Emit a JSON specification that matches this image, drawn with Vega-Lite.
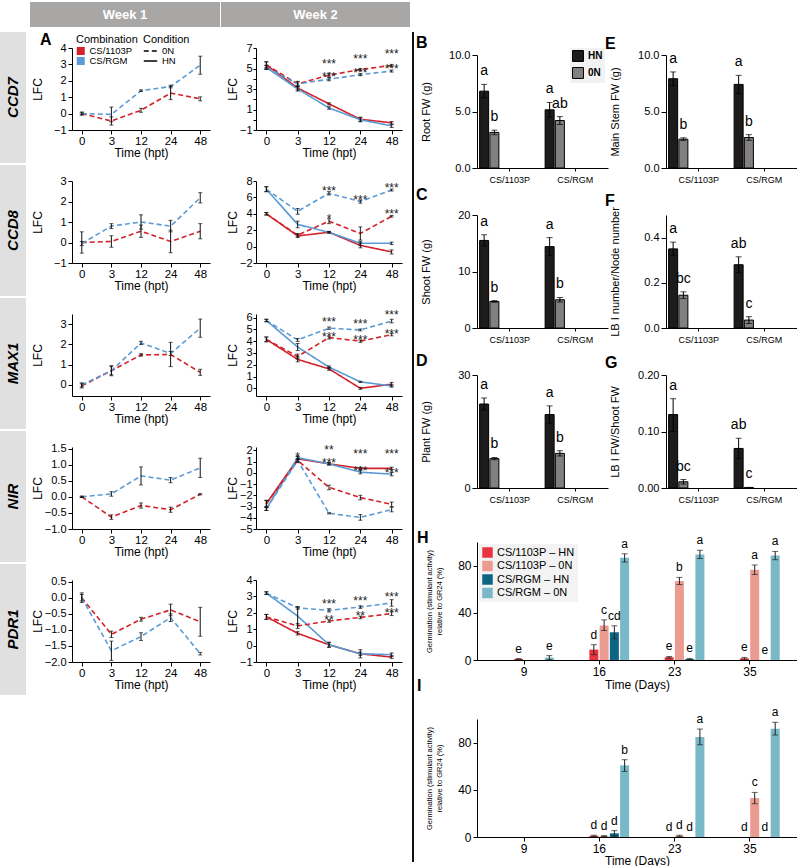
{
"$schema":"https://vega.github.io/schema/vega-lite/v6.json",
"padding":{"left":0,"top":2,"right":0,"bottom":0},
"background":"white",
"config":{"font":"Liberation Sans","view":{"stroke":null},"axis":{"grid":false,"domainColor":"#000","tickColor":"#000","labelColor":"#000","titleColor":"#000","titleFontWeight":"normal"},"axisX":{"titleFontWeight":"normal"},"axisY":{"titleFontWeight":"normal"},"legend":{"labelColor":"#000","titleColor":"#000"}},
"datasets":{
"lfc":[
{"g":"CCD7","w":1,"c":"CS/1103P","n":"0N","t":0,"m":0,"e":0.05},
{"g":"CCD7","w":1,"c":"CS/1103P","n":"0N","t":3,"m":-0.45,"e":0.25},
{"g":"CCD7","w":1,"c":"CS/1103P","n":"0N","t":12,"m":0.2,"e":0.12},
{"g":"CCD7","w":1,"c":"CS/1103P","n":"0N","t":24,"m":1.25,"e":0.4},
{"g":"CCD7","w":1,"c":"CS/1103P","n":"0N","t":48,"m":0.9,"e":0.12},
{"g":"CCD7","w":1,"c":"CS/RGM","n":"0N","t":0,"m":0,"e":0.1},
{"g":"CCD7","w":1,"c":"CS/RGM","n":"0N","t":3,"m":-0.05,"e":0.45},
{"g":"CCD7","w":1,"c":"CS/RGM","n":"0N","t":12,"m":1.4,"e":0.05},
{"g":"CCD7","w":1,"c":"CS/RGM","n":"0N","t":24,"m":1.65,"e":0.08},
{"g":"CCD7","w":1,"c":"CS/RGM","n":"0N","t":48,"m":2.95,"e":0.55},
{"g":"CCD7","w":2,"c":"CS/1103P","n":"HN","t":0,"m":5.35,"e":0.3},
{"g":"CCD7","w":2,"c":"CS/1103P","n":"HN","t":3,"m":3.1,"e":0.2},
{"g":"CCD7","w":2,"c":"CS/1103P","n":"HN","t":12,"m":1.55,"e":0.1},
{"g":"CCD7","w":2,"c":"CS/1103P","n":"HN","t":24,"m":0.05,"e":0.2},
{"g":"CCD7","w":2,"c":"CS/1103P","n":"HN","t":48,"m":-0.3,"e":0.12},
{"g":"CCD7","w":2,"c":"CS/RGM","n":"HN","t":0,"m":5.1,"e":0.2},
{"g":"CCD7","w":2,"c":"CS/RGM","n":"HN","t":3,"m":3.0,"e":0.2},
{"g":"CCD7","w":2,"c":"CS/RGM","n":"HN","t":12,"m":1.15,"e":0.12},
{"g":"CCD7","w":2,"c":"CS/RGM","n":"HN","t":24,"m":0,"e":0.2},
{"g":"CCD7","w":2,"c":"CS/RGM","n":"HN","t":48,"m":-0.6,"e":0.15},
{"g":"CCD7","w":2,"c":"CS/1103P","n":"0N","t":0,"m":5.35,"e":0.3},
{"g":"CCD7","w":2,"c":"CS/1103P","n":"0N","t":3,"m":3.5,"e":0.25},
{"g":"CCD7","w":2,"c":"CS/1103P","n":"0N","t":12,"m":4.35,"e":0.2,"s":"***"},
{"g":"CCD7","w":2,"c":"CS/1103P","n":"0N","t":24,"m":4.9,"e":0.1,"s":"***"},
{"g":"CCD7","w":2,"c":"CS/1103P","n":"0N","t":48,"m":5.3,"e":0.1,"s":"***"},
{"g":"CCD7","w":2,"c":"CS/RGM","n":"0N","t":0,"m":5.1,"e":0.2},
{"g":"CCD7","w":2,"c":"CS/RGM","n":"0N","t":3,"m":3.5,"e":0.2},
{"g":"CCD7","w":2,"c":"CS/RGM","n":"0N","t":12,"m":3.95,"e":0.15,"s":"***"},
{"g":"CCD7","w":2,"c":"CS/RGM","n":"0N","t":24,"m":4.4,"e":0.1,"s":"***"},
{"g":"CCD7","w":2,"c":"CS/RGM","n":"0N","t":48,"m":4.75,"e":0.1,"s":"***"},
{"g":"CCD8","w":1,"c":"CS/1103P","n":"0N","t":0,"m":0,"e":0.52},
{"g":"CCD8","w":1,"c":"CS/1103P","n":"0N","t":3,"m":0.05,"e":0.28},
{"g":"CCD8","w":1,"c":"CS/1103P","n":"0N","t":12,"m":0.55,"e":0.3},
{"g":"CCD8","w":1,"c":"CS/1103P","n":"0N","t":24,"m":0.05,"e":0.55},
{"g":"CCD8","w":1,"c":"CS/1103P","n":"0N","t":48,"m":0.55,"e":0.37},
{"g":"CCD8","w":1,"c":"CS/RGM","n":"0N","t":0,"m":-0.05,"e":0.1},
{"g":"CCD8","w":1,"c":"CS/RGM","n":"0N","t":3,"m":0.8,"e":0.12},
{"g":"CCD8","w":1,"c":"CS/RGM","n":"0N","t":12,"m":1.0,"e":0.35},
{"g":"CCD8","w":1,"c":"CS/RGM","n":"0N","t":24,"m":0.8,"e":0.28},
{"g":"CCD8","w":1,"c":"CS/RGM","n":"0N","t":48,"m":2.18,"e":0.25},
{"g":"CCD8","w":2,"c":"CS/1103P","n":"HN","t":0,"m":4.0,"e":0.15},
{"g":"CCD8","w":2,"c":"CS/1103P","n":"HN","t":3,"m":1.3,"e":0.2},
{"g":"CCD8","w":2,"c":"CS/1103P","n":"HN","t":12,"m":1.75,"e":0.1},
{"g":"CCD8","w":2,"c":"CS/1103P","n":"HN","t":24,"m":0.15,"e":0.3},
{"g":"CCD8","w":2,"c":"CS/1103P","n":"HN","t":48,"m":-0.65,"e":0.25},
{"g":"CCD8","w":2,"c":"CS/RGM","n":"HN","t":0,"m":7.0,"e":0.3},
{"g":"CCD8","w":2,"c":"CS/RGM","n":"HN","t":3,"m":2.7,"e":0.4},
{"g":"CCD8","w":2,"c":"CS/RGM","n":"HN","t":12,"m":1.75,"e":0.1},
{"g":"CCD8","w":2,"c":"CS/RGM","n":"HN","t":24,"m":0.4,"e":0.25},
{"g":"CCD8","w":2,"c":"CS/RGM","n":"HN","t":48,"m":0.4,"e":0.15},
{"g":"CCD8","w":2,"c":"CS/1103P","n":"0N","t":0,"m":4.0,"e":0.15},
{"g":"CCD8","w":2,"c":"CS/1103P","n":"0N","t":3,"m":1.4,"e":0.2},
{"g":"CCD8","w":2,"c":"CS/1103P","n":"0N","t":12,"m":3.1,"e":0.3,"s":"*"},
{"g":"CCD8","w":2,"c":"CS/1103P","n":"0N","t":24,"m":1.6,"e":0.8},
{"g":"CCD8","w":2,"c":"CS/1103P","n":"0N","t":48,"m":3.7,"e":0.1,"s":"***"},
{"g":"CCD8","w":2,"c":"CS/RGM","n":"0N","t":0,"m":7.0,"e":0.3},
{"g":"CCD8","w":2,"c":"CS/RGM","n":"0N","t":3,"m":4.3,"e":0.35},
{"g":"CCD8","w":2,"c":"CS/RGM","n":"0N","t":12,"m":6.5,"e":0.2,"s":"***"},
{"g":"CCD8","w":2,"c":"CS/RGM","n":"0N","t":24,"m":5.5,"e":0.2,"s":"***"},
{"g":"CCD8","w":2,"c":"CS/RGM","n":"0N","t":48,"m":6.9,"e":0.12,"s":"***"},
{"g":"MAX1","w":1,"c":"CS/1103P","n":"0N","t":0,"m":-0.05,"e":0.1},
{"g":"MAX1","w":1,"c":"CS/1103P","n":"0N","t":3,"m":0.7,"e":0.25},
{"g":"MAX1","w":1,"c":"CS/1103P","n":"0N","t":12,"m":1.48,"e":0.06},
{"g":"MAX1","w":1,"c":"CS/1103P","n":"0N","t":24,"m":1.5,"e":0.6},
{"g":"MAX1","w":1,"c":"CS/1103P","n":"0N","t":48,"m":0.62,"e":0.15},
{"g":"MAX1","w":1,"c":"CS/RGM","n":"0N","t":0,"m":0,"e":0.1},
{"g":"MAX1","w":1,"c":"CS/RGM","n":"0N","t":3,"m":0.7,"e":0.2},
{"g":"MAX1","w":1,"c":"CS/RGM","n":"0N","t":12,"m":2.07,"e":0.08},
{"g":"MAX1","w":1,"c":"CS/RGM","n":"0N","t":24,"m":1.55,"e":0.1},
{"g":"MAX1","w":1,"c":"CS/RGM","n":"0N","t":48,"m":2.8,"e":0.45},
{"g":"MAX1","w":2,"c":"CS/1103P","n":"HN","t":0,"m":4.15,"e":0.2},
{"g":"MAX1","w":2,"c":"CS/1103P","n":"HN","t":3,"m":2.45,"e":0.2},
{"g":"MAX1","w":2,"c":"CS/1103P","n":"HN","t":12,"m":1.65,"e":0.12},
{"g":"MAX1","w":2,"c":"CS/1103P","n":"HN","t":24,"m":0,"e":0.08},
{"g":"MAX1","w":2,"c":"CS/1103P","n":"HN","t":48,"m":0.35,"e":0.15},
{"g":"MAX1","w":2,"c":"CS/RGM","n":"HN","t":0,"m":5.75,"e":0.1},
{"g":"MAX1","w":2,"c":"CS/RGM","n":"HN","t":3,"m":3.5,"e":0.3},
{"g":"MAX1","w":2,"c":"CS/RGM","n":"HN","t":12,"m":1.8,"e":0.1},
{"g":"MAX1","w":2,"c":"CS/RGM","n":"HN","t":24,"m":0.55,"e":0.05},
{"g":"MAX1","w":2,"c":"CS/RGM","n":"HN","t":48,"m":0.2,"e":0.1},
{"g":"MAX1","w":2,"c":"CS/1103P","n":"0N","t":0,"m":4.15,"e":0.2},
{"g":"MAX1","w":2,"c":"CS/1103P","n":"0N","t":3,"m":2.7,"e":0.2},
{"g":"MAX1","w":2,"c":"CS/1103P","n":"0N","t":12,"m":4.3,"e":0.12,"s":"***"},
{"g":"MAX1","w":2,"c":"CS/1103P","n":"0N","t":24,"m":4.0,"e":0.1,"s":"***"},
{"g":"MAX1","w":2,"c":"CS/1103P","n":"0N","t":48,"m":4.55,"e":0.1,"s":"***"},
{"g":"MAX1","w":2,"c":"CS/RGM","n":"0N","t":0,"m":5.75,"e":0.1},
{"g":"MAX1","w":2,"c":"CS/RGM","n":"0N","t":3,"m":4.1,"e":0.12},
{"g":"MAX1","w":2,"c":"CS/RGM","n":"0N","t":12,"m":5.1,"e":0.1,"s":"***"},
{"g":"MAX1","w":2,"c":"CS/RGM","n":"0N","t":24,"m":4.95,"e":0.08,"s":"***"},
{"g":"MAX1","w":2,"c":"CS/RGM","n":"0N","t":48,"m":5.7,"e":0.15,"s":"***"},
{"g":"NIR","w":1,"c":"CS/1103P","n":"0N","t":0,"m":0,"e":0.02},
{"g":"NIR","w":1,"c":"CS/1103P","n":"0N","t":3,"m":-0.63,"e":0.07},
{"g":"NIR","w":1,"c":"CS/1103P","n":"0N","t":12,"m":-0.27,"e":0.08},
{"g":"NIR","w":1,"c":"CS/1103P","n":"0N","t":24,"m":-0.4,"e":0.08},
{"g":"NIR","w":1,"c":"CS/1103P","n":"0N","t":48,"m":0.08,"e":0.02},
{"g":"NIR","w":1,"c":"CS/RGM","n":"0N","t":0,"m":0,"e":0.02},
{"g":"NIR","w":1,"c":"CS/RGM","n":"0N","t":3,"m":0.09,"e":0.07},
{"g":"NIR","w":1,"c":"CS/RGM","n":"0N","t":12,"m":0.65,"e":0.28},
{"g":"NIR","w":1,"c":"CS/RGM","n":"0N","t":24,"m":0.52,"e":0.08},
{"g":"NIR","w":1,"c":"CS/RGM","n":"0N","t":48,"m":0.9,"e":0.3},
{"g":"NIR","w":2,"c":"CS/1103P","n":"HN","t":0,"m":-2.75,"e":0.3},
{"g":"NIR","w":2,"c":"CS/1103P","n":"HN","t":3,"m":1.25,"e":0.2},
{"g":"NIR","w":2,"c":"CS/1103P","n":"HN","t":12,"m":0.8,"e":0.1,"s":"**"},
{"g":"NIR","w":2,"c":"CS/1103P","n":"HN","t":24,"m":0.4,"e":0.1,"s":"***"},
{"g":"NIR","w":2,"c":"CS/1103P","n":"HN","t":48,"m":0.4,"e":0.1,"s":"***"},
{"g":"NIR","w":2,"c":"CS/RGM","n":"HN","t":0,"m":-3.2,"e":0.15},
{"g":"NIR","w":2,"c":"CS/RGM","n":"HN","t":3,"m":1.35,"e":0.15,"s":"*"},
{"g":"NIR","w":2,"c":"CS/RGM","n":"HN","t":12,"m":0.8,"e":0.1,"s":"***"},
{"g":"NIR","w":2,"c":"CS/RGM","n":"HN","t":24,"m":0.06,"e":0.15,"s":"***"},
{"g":"NIR","w":2,"c":"CS/RGM","n":"HN","t":48,"m":-0.12,"e":0.15,"s":"***"},
{"g":"NIR","w":2,"c":"CS/1103P","n":"0N","t":0,"m":-2.75,"e":0.3},
{"g":"NIR","w":2,"c":"CS/1103P","n":"0N","t":3,"m":1.1,"e":0.15},
{"g":"NIR","w":2,"c":"CS/1103P","n":"0N","t":12,"m":-1.3,"e":0.2},
{"g":"NIR","w":2,"c":"CS/1103P","n":"0N","t":24,"m":-2.2,"e":0.2},
{"g":"NIR","w":2,"c":"CS/1103P","n":"0N","t":48,"m":-2.8,"e":0.2},
{"g":"NIR","w":2,"c":"CS/RGM","n":"0N","t":0,"m":-3.2,"e":0.15},
{"g":"NIR","w":2,"c":"CS/RGM","n":"0N","t":3,"m":1.1,"e":0.15},
{"g":"NIR","w":2,"c":"CS/RGM","n":"0N","t":12,"m":-3.6,"e":0.05},
{"g":"NIR","w":2,"c":"CS/RGM","n":"0N","t":24,"m":-3.97,"e":0.25},
{"g":"NIR","w":2,"c":"CS/RGM","n":"0N","t":48,"m":-3.27,"e":0.2},
{"g":"PDR1","w":1,"c":"CS/1103P","n":"0N","t":0,"m":0,"e":0.1},
{"g":"PDR1","w":1,"c":"CS/1103P","n":"0N","t":3,"m":-1.14,"e":0.1},
{"g":"PDR1","w":1,"c":"CS/1103P","n":"0N","t":12,"m":-0.67,"e":0.06},
{"g":"PDR1","w":1,"c":"CS/1103P","n":"0N","t":24,"m":-0.38,"e":0.18},
{"g":"PDR1","w":1,"c":"CS/1103P","n":"0N","t":48,"m":-0.75,"e":0.45},
{"g":"PDR1","w":1,"c":"CS/RGM","n":"0N","t":0,"m":0,"e":0.15},
{"g":"PDR1","w":1,"c":"CS/RGM","n":"0N","t":3,"m":-1.65,"e":0.3},
{"g":"PDR1","w":1,"c":"CS/RGM","n":"0N","t":12,"m":-1.21,"e":0.12},
{"g":"PDR1","w":1,"c":"CS/RGM","n":"0N","t":24,"m":-0.62,"e":0.12},
{"g":"PDR1","w":1,"c":"CS/RGM","n":"0N","t":48,"m":-1.74,"e":0.04},
{"g":"PDR1","w":2,"c":"CS/1103P","n":"HN","t":0,"m":1.75,"e":0.15},
{"g":"PDR1","w":2,"c":"CS/1103P","n":"HN","t":3,"m":0.75,"e":0.1},
{"g":"PDR1","w":2,"c":"CS/1103P","n":"HN","t":12,"m":0.05,"e":0.15},
{"g":"PDR1","w":2,"c":"CS/1103P","n":"HN","t":24,"m":-0.5,"e":0.1},
{"g":"PDR1","w":2,"c":"CS/1103P","n":"HN","t":48,"m":-0.7,"e":0.08},
{"g":"PDR1","w":2,"c":"CS/RGM","n":"HN","t":0,"m":3.2,"e":0.08},
{"g":"PDR1","w":2,"c":"CS/RGM","n":"HN","t":3,"m":1.8,"e":0.55},
{"g":"PDR1","w":2,"c":"CS/RGM","n":"HN","t":12,"m":0.05,"e":0.15},
{"g":"PDR1","w":2,"c":"CS/RGM","n":"HN","t":24,"m":-0.5,"e":0.25},
{"g":"PDR1","w":2,"c":"CS/RGM","n":"HN","t":48,"m":-0.55,"e":0.1},
{"g":"PDR1","w":2,"c":"CS/1103P","n":"0N","t":0,"m":1.75,"e":0.15},
{"g":"PDR1","w":2,"c":"CS/1103P","n":"0N","t":3,"m":1.2,"e":0.15},
{"g":"PDR1","w":2,"c":"CS/1103P","n":"0N","t":12,"m":1.5,"e":0.08,"s":"**"},
{"g":"PDR1","w":2,"c":"CS/1103P","n":"0N","t":24,"m":1.72,"e":0.08,"s":"**"},
{"g":"PDR1","w":2,"c":"CS/1103P","n":"0N","t":48,"m":1.95,"e":0.12,"s":"***"},
{"g":"PDR1","w":2,"c":"CS/RGM","n":"0N","t":0,"m":3.2,"e":0.08},
{"g":"PDR1","w":2,"c":"CS/RGM","n":"0N","t":3,"m":2.3,"e":0.08},
{"g":"PDR1","w":2,"c":"CS/RGM","n":"0N","t":12,"m":2.15,"e":0.1,"s":"***"},
{"g":"PDR1","w":2,"c":"CS/RGM","n":"0N","t":24,"m":2.35,"e":0.08,"s":"***"},
{"g":"PDR1","w":2,"c":"CS/RGM","n":"0N","t":48,"m":2.6,"e":0.2,"s":"***"}
],
"bio":[
{"p":"B","c":"CS/1103P","n":"HN","m":6.8,"lo":6.2,"hi":7.4,"l":"a"},
{"p":"B","c":"CS/1103P","n":"0N","m":3.15,"lo":2.95,"hi":3.35,"l":"b"},
{"p":"B","c":"CS/RGM","n":"HN","m":5.15,"lo":4.5,"hi":5.8,"l":"a"},
{"p":"B","c":"CS/RGM","n":"0N","m":4.2,"lo":3.85,"hi":4.55,"l":"ab"},
{"p":"E","c":"CS/1103P","n":"HN","m":7.9,"lo":7.3,"hi":8.5,"l":"a"},
{"p":"E","c":"CS/1103P","n":"0N","m":2.55,"lo":2.43,"hi":2.67,"l":"b"},
{"p":"E","c":"CS/RGM","n":"HN","m":7.4,"lo":6.6,"hi":8.2,"l":"a"},
{"p":"E","c":"CS/RGM","n":"0N","m":2.7,"lo":2.45,"hi":2.95,"l":"b"},
{"p":"C","c":"CS/1103P","n":"HN","m":15.5,"lo":14.5,"hi":16.5,"l":"a"},
{"p":"C","c":"CS/1103P","n":"0N","m":4.7,"lo":4.55,"hi":4.85,"l":"b"},
{"p":"C","c":"CS/RGM","n":"HN","m":14.4,"lo":12.8,"hi":16.0,"l":"a"},
{"p":"C","c":"CS/RGM","n":"0N","m":5.0,"lo":4.6,"hi":5.4,"l":"b"},
{"p":"F","c":"CS/1103P","n":"HN","m":0.35,"lo":0.32,"hi":0.38,"l":"a"},
{"p":"F","c":"CS/1103P","n":"0N","m":0.145,"lo":0.13,"hi":0.16,"l":"bc"},
{"p":"F","c":"CS/RGM","n":"HN","m":0.28,"lo":0.245,"hi":0.315,"l":"ab"},
{"p":"F","c":"CS/RGM","n":"0N","m":0.035,"lo":0.02,"hi":0.05,"l":"c"},
{"p":"D","c":"CS/1103P","n":"HN","m":22.3,"lo":20.7,"hi":23.9,"l":"a"},
{"p":"D","c":"CS/1103P","n":"0N","m":7.8,"lo":7.5,"hi":8.1,"l":"b"},
{"p":"D","c":"CS/RGM","n":"HN","m":19.5,"lo":17.2,"hi":21.8,"l":"a"},
{"p":"D","c":"CS/RGM","n":"0N","m":9.2,"lo":8.5,"hi":9.9,"l":"b"},
{"p":"G","c":"CS/1103P","n":"HN","m":0.13,"lo":0.1,"hi":0.158,"l":"a"},
{"p":"G","c":"CS/1103P","n":"0N","m":0.011,"lo":0.007,"hi":0.015,"l":"bc"},
{"p":"G","c":"CS/RGM","n":"HN","m":0.07,"lo":0.052,"hi":0.088,"l":"ab"},
{"p":"G","c":"CS/RGM","n":"0N","m":0.001,"lo":0.001,"hi":0.001,"l":"c"}
],
"germ":[
{"p":"H","d":9,"s":"CS/1103P – HN","m":0.8,"lo":0.4,"hi":1.2,"l":"e"},
{"p":"H","d":9,"s":"CS/RGM – 0N","m":2,"lo":0.3,"hi":3.7,"l":"e"},
{"p":"H","d":16,"s":"CS/1103P – HN","m":8.8,"lo":4.5,"hi":13,"l":"d"},
{"p":"H","d":16,"s":"CS/1103P – 0N","m":29.2,"lo":25,"hi":34,"l":"c"},
{"p":"H","d":16,"s":"CS/RGM – HN","m":23.5,"lo":18,"hi":29,"l":"cd"},
{"p":"H","d":16,"s":"CS/RGM – 0N","m":86.7,"lo":83,"hi":90,"l":"a"},
{"p":"H","d":23,"s":"CS/1103P – HN","m":2.3,"lo":1.6,"hi":3,"l":"e"},
{"p":"H","d":23,"s":"CS/1103P – 0N","m":66.9,"lo":64,"hi":70,"l":"b"},
{"p":"H","d":23,"s":"CS/RGM – HN","m":0.8,"lo":0.3,"hi":1.3,"l":"e"},
{"p":"H","d":23,"s":"CS/RGM – 0N","m":89.5,"lo":86,"hi":93,"l":"a"},
{"p":"H","d":35,"s":"CS/1103P – HN","m":1.4,"lo":0.6,"hi":2.2,"l":"e"},
{"p":"H","d":35,"s":"CS/1103P – 0N","m":76.5,"lo":72.5,"hi":80.5,"l":"a"},
{"p":"H","d":35,"s":"CS/RGM – HN","m":0,"lo":0,"hi":0,"l":"e"},
{"p":"H","d":35,"s":"CS/RGM – 0N","m":88.5,"lo":85,"hi":92,"l":"a"},
{"p":"I","d":16,"s":"CS/1103P – HN","m":1,"lo":0.5,"hi":1.5,"l":"d"},
{"p":"I","d":16,"s":"CS/1103P – 0N","m":0.8,"lo":0.4,"hi":1.2,"l":"d"},
{"p":"I","d":16,"s":"CS/RGM – HN","m":3.1,"lo":0.8,"hi":5.4,"l":"d"},
{"p":"I","d":16,"s":"CS/RGM – 0N","m":60.7,"lo":55.6,"hi":65.5,"l":"b"},
{"p":"I","d":23,"s":"CS/1103P – HN","m":0,"lo":0,"hi":0,"l":"d"},
{"p":"I","d":23,"s":"CS/1103P – 0N","m":1,"lo":0.5,"hi":1.5,"l":"d"},
{"p":"I","d":23,"s":"CS/RGM – HN","m":0,"lo":0,"hi":0,"l":"d"},
{"p":"I","d":23,"s":"CS/RGM – 0N","m":84.7,"lo":78.2,"hi":91.5,"l":"a"},
{"p":"I","d":35,"s":"CS/1103P – HN","m":0,"lo":0,"hi":0,"l":"d"},
{"p":"I","d":35,"s":"CS/1103P – 0N","m":33,"lo":28.2,"hi":37.8,"l":"c"},
{"p":"I","d":35,"s":"CS/RGM – HN","m":0,"lo":0,"hi":0,"l":"d"},
{"p":"I","d":35,"s":"CS/RGM – 0N","m":91.8,"lo":86.4,"hi":97.2,"l":"a"}
]
},
"resolve":{"scale":{"color":"independent","strokeDash":"independent"},"legend":{"color":"independent","strokeDash":"independent"}},
"spacing":5,
"vconcat":[
{"spacing":1,"hconcat":[
 {"width":29,"height":25,"data":{"values":[{"wk":""}]},"mark":{"type":"text","fontSize":0,"opacity":0},"encoding":{"text":{"field":"wk"}}},
 {"width":190,"height":25,"view":{"fill":"#a9a7a6"},"data":{"values":[{"wk":"Week 1"}]},"mark":{"type":"text","fontSize":13,"fontWeight":"bold","color":"white"},"encoding":{"text":{"field":"wk"}}},
 {"width":189,"height":25,"view":{"fill":"#a9a7a6"},"data":{"values":[{"wk":"Week 2"}]},"mark":{"type":"text","fontSize":13,"fontWeight":"bold","color":"white"},"encoding":{"text":{"field":"wk"}}}
]},
{"resolve":{"scale":{"color":"independent","strokeDash":"independent"},"legend":{"color":"independent","strokeDash":"independent"}},
 "spacing":10,
 "hconcat":[
 {"resolve":{"scale":{"color":"independent","strokeDash":"independent"},"legend":{"color":"independent","strokeDash":"independent"}},
  "columns":3,"bounds":"flush","spacing":{"row":2,"column":46},
  "concat":[
   {"width":26,"height":131,"view":{"fill":"#e1e0e0"},"data":{"values":[{"gene":"CCD7"}]},"mark":{"type":"text","angle":270,"fontSize":15,"fontWeight":"bold","fontStyle":"italic"},"encoding":{"text":{"field":"gene"}}},
   {"width":138,"height":98,
    "title":{"text":"A","anchor":"start","frame":"group","dx":-32,"fontSize":16,"fontWeight":"bold","offset":-16},
    "data":{"name":"lfc"},"transform":[{"filter":"datum.g==='CCD7' && datum.w===1"}],
    "encoding":{"x":{"field":"t","type":"ordinal","scale":{"domain":[0,3,12,24,48],"type":"point","padding":0.33},"axis":{"title":"Time (hpt)","labelAngle":0,"labelFontSize":11.5,"titleFontSize":12,"titleFontWeight":"normal","tickSize":4,"labelPadding":1,"titlePadding":1}},
     "y":{"field":"m","type":"quantitative","scale":{"domain":[-1,4],"range":[98,16],"nice":false,"zero":false},"axis":{"title":"LFC","titleFontSize":12,"labelFontSize":11,"tickSize":4,"labelPadding":2,"minExtent":27,"maxExtent":27,"titlePadding":1,"values":[-1,0,1,2,3,4],"format":"d"}}},
    "layer":[
     {"mark":{"type":"line","strokeWidth":1.6},"encoding":{
       "color":{"field":"c","type":"nominal","scale":{"domain":["CS/1103P","CS/RGM"],"range":["#d2232a","#5b9bd5"]},"legend":{"orient":"none","legendX":3,"legendY":1,"title":"Combination","titleFontSize":11,"titleFontWeight":"normal","titlePadding":1,"labelFontSize":9.5,"symbolType":"square","symbolSize":16,"symbolStrokeWidth":4,"rowPadding":0,"clipHeight":10,"padding":1,"labelOffset":4,"fillColor":"rgba(255,255,255,0.85)"}},
       "strokeDash":{"field":"n","type":"nominal","scale":{"domain":["0N","HN"],"range":[[5,3],[1,0]]},"legend":{"orient":"none","legendX":70,"legendY":1,"title":"Condition","titleFontSize":11,"titleFontWeight":"normal","titlePadding":1,"labelFontSize":9.5,"symbolType":"stroke","symbolStrokeColor":"#000","symbolSize":180,"symbolStrokeWidth":1.5,"rowPadding":0,"clipHeight":10,"padding":1,"fillColor":"rgba(255,255,255,0.85)"}}}},
     {"mark":{"type":"errorbar","ticks":true,"size":4,"thickness":1,"color":"#111"},"encoding":{"yError":{"field":"e"}}}
    ]},
   {"width":146,"height":98,"data":{"name":"lfc"},"transform":[{"filter":"datum.g==='CCD7' && datum.w===2"}],
    "encoding":{"x":{"field":"t","type":"ordinal","scale":{"domain":[0,3,12,24,48],"type":"point","padding":0.33},"axis":{"title":"Time (hpt)","labelAngle":0,"labelFontSize":11.5,"titleFontSize":12,"titleFontWeight":"normal","tickSize":4,"labelPadding":1,"titlePadding":1}},
     "y":{"field":"m","type":"quantitative","scale":{"domain":[-1,7],"range":[98,16],"nice":false,"zero":false},"axis":{"title":"LFC","titleFontSize":12,"labelFontSize":11,"tickSize":3,"labelPadding":1,"minExtent":16,"maxExtent":16,"titlePadding":1,"values":[-1,0,1,2,3,4,5,6,7],"format":"d"}}},
    "layer":[
     {"mark":{"type":"line","strokeWidth":1.6},"encoding":{"color":{"field":"c","type":"nominal","scale":{"domain":["CS/1103P","CS/RGM"],"range":["#d2232a","#5b9bd5"]},"legend":null},"strokeDash":{"field":"n","type":"nominal","scale":{"domain":["0N","HN"],"range":[[5,3],[1,0]]},"legend":null}}},
     {"mark":{"type":"errorbar","ticks":true,"size":4,"thickness":1,"color":"#111"},"encoding":{"yError":{"field":"e"}}},
     {"transform":[{"filter":"datum.s && datum.c==='CS/1103P'"}],"mark":{"type":"text","fontSize":12,"dy":-7,"baseline":"alphabetic","color":"#222"},"encoding":{"text":{"field":"s"}}},
     {"transform":[{"filter":"datum.s && datum.c==='CS/RGM'"}],"mark":{"type":"text","fontSize":12,"dy":2,"baseline":"alphabetic","color":"#222"},"encoding":{"text":{"field":"s"}}}
    ]},
   {"width":26,"height":131,"view":{"fill":"#e1e0e0"},"data":{"values":[{"gene":"CCD8"}]},"mark":{"type":"text","angle":270,"fontSize":15,"fontWeight":"bold","fontStyle":"italic"},"encoding":{"text":{"field":"gene"}}},
   {"width":138,"height":98,"data":{"name":"lfc"},"transform":[{"filter":"datum.g==='CCD8' && datum.w===1"}],
    "encoding":{"x":{"field":"t","type":"ordinal","scale":{"domain":[0,3,12,24,48],"type":"point","padding":0.33},"axis":{"title":"Time (hpt)","labelAngle":0,"labelFontSize":11.5,"titleFontSize":12,"titleFontWeight":"normal","tickSize":4,"labelPadding":1,"titlePadding":1}},
     "y":{"field":"m","type":"quantitative","scale":{"domain":[-1,3],"range":[98,16],"nice":false,"zero":false},"axis":{"title":"LFC","titleFontSize":12,"labelFontSize":11,"tickSize":4,"labelPadding":2,"minExtent":27,"maxExtent":27,"titlePadding":1,"values":[-1,0,1,2,3],"format":"d"}}},
    "layer":[
     {"mark":{"type":"line","strokeWidth":1.6},"encoding":{"color":{"field":"c","type":"nominal","scale":{"domain":["CS/1103P","CS/RGM"],"range":["#d2232a","#5b9bd5"]},"legend":null},"strokeDash":{"field":"n","type":"nominal","scale":{"domain":["0N","HN"],"range":[[5,3],[1,0]]},"legend":null}}},
     {"mark":{"type":"errorbar","ticks":true,"size":4,"thickness":1,"color":"#111"},"encoding":{"yError":{"field":"e"}}}
    ]},
   {"width":146,"height":98,"data":{"name":"lfc"},"transform":[{"filter":"datum.g==='CCD8' && datum.w===2"}],
    "encoding":{"x":{"field":"t","type":"ordinal","scale":{"domain":[0,3,12,24,48],"type":"point","padding":0.33},"axis":{"title":"Time (hpt)","labelAngle":0,"labelFontSize":11.5,"titleFontSize":12,"titleFontWeight":"normal","tickSize":4,"labelPadding":1,"titlePadding":1}},
     "y":{"field":"m","type":"quantitative","scale":{"domain":[-2,8],"range":[98,16],"nice":false,"zero":false},"axis":{"title":"LFC","titleFontSize":12,"labelFontSize":11,"tickSize":3,"labelPadding":1,"minExtent":16,"maxExtent":16,"titlePadding":1,"values":[-2,0,2,4,6,8],"format":"d"}}},
    "layer":[
     {"mark":{"type":"line","strokeWidth":1.6},"encoding":{"color":{"field":"c","type":"nominal","scale":{"domain":["CS/1103P","CS/RGM"],"range":["#d2232a","#5b9bd5"]},"legend":null},"strokeDash":{"field":"n","type":"nominal","scale":{"domain":["0N","HN"],"range":[[5,3],[1,0]]},"legend":null}}},
     {"mark":{"type":"errorbar","ticks":true,"size":4,"thickness":1,"color":"#111"},"encoding":{"yError":{"field":"e"}}},
     {"transform":[{"filter":"datum.s"}],"mark":{"type":"text","fontSize":12,"dy":2,"baseline":"alphabetic","color":"#222"},"encoding":{"text":{"field":"s"}}}
    ]},
   {"width":26,"height":131,"view":{"fill":"#e1e0e0"},"data":{"values":[{"gene":"MAX1"}]},"mark":{"type":"text","angle":270,"fontSize":15,"fontWeight":"bold","fontStyle":"italic"},"encoding":{"text":{"field":"gene"}}},
   {"width":138,"height":98,"data":{"name":"lfc"},"transform":[{"filter":"datum.g==='MAX1' && datum.w===1"}],
    "encoding":{"x":{"field":"t","type":"ordinal","scale":{"domain":[0,3,12,24,48],"type":"point","padding":0.33},"axis":{"title":"Time (hpt)","labelAngle":0,"labelFontSize":11.5,"titleFontSize":12,"titleFontWeight":"normal","tickSize":4,"labelPadding":1,"titlePadding":1}},
     "y":{"field":"m","type":"quantitative","scale":{"domain":[-0.55,3.5],"range":[98,16],"nice":false,"zero":false},"axis":{"title":"LFC","titleFontSize":12,"labelFontSize":11,"tickSize":4,"labelPadding":2,"minExtent":27,"maxExtent":27,"titlePadding":1,"values":[0,1,2,3],"format":"d"}}},
    "layer":[
     {"mark":{"type":"line","strokeWidth":1.6},"encoding":{"color":{"field":"c","type":"nominal","scale":{"domain":["CS/1103P","CS/RGM"],"range":["#d2232a","#5b9bd5"]},"legend":null},"strokeDash":{"field":"n","type":"nominal","scale":{"domain":["0N","HN"],"range":[[5,3],[1,0]]},"legend":null}}},
     {"mark":{"type":"errorbar","ticks":true,"size":4,"thickness":1,"color":"#111"},"encoding":{"yError":{"field":"e"}}}
    ]},
   {"width":146,"height":98,"data":{"name":"lfc"},"transform":[{"filter":"datum.g==='MAX1' && datum.w===2"}],
    "encoding":{"x":{"field":"t","type":"ordinal","scale":{"domain":[0,3,12,24,48],"type":"point","padding":0.33},"axis":{"title":"Time (hpt)","labelAngle":0,"labelFontSize":11.5,"titleFontSize":12,"titleFontWeight":"normal","tickSize":4,"labelPadding":1,"titlePadding":1}},
     "y":{"field":"m","type":"quantitative","scale":{"domain":[-0.65,6.3],"range":[98,16],"nice":false,"zero":false},"axis":{"title":"LFC","titleFontSize":12,"labelFontSize":11,"tickSize":3,"labelPadding":1,"minExtent":16,"maxExtent":16,"titlePadding":1,"values":[0,1,2,3,4,5,6],"format":"d"}}},
    "layer":[
     {"mark":{"type":"line","strokeWidth":1.6},"encoding":{"color":{"field":"c","type":"nominal","scale":{"domain":["CS/1103P","CS/RGM"],"range":["#d2232a","#5b9bd5"]},"legend":null},"strokeDash":{"field":"n","type":"nominal","scale":{"domain":["0N","HN"],"range":[[5,3],[1,0]]},"legend":null}}},
     {"mark":{"type":"errorbar","ticks":true,"size":4,"thickness":1,"color":"#111"},"encoding":{"yError":{"field":"e"}}},
     {"transform":[{"filter":"datum.s && datum.c==='CS/1103P'"}],"mark":{"type":"text","fontSize":12,"dy":3,"baseline":"alphabetic","color":"#222"},"encoding":{"text":{"field":"s"}}},
     {"transform":[{"filter":"datum.s && datum.c==='CS/RGM'"}],"mark":{"type":"text","fontSize":12,"dy":-2,"baseline":"alphabetic","color":"#222"},"encoding":{"text":{"field":"s"}}}
    ]},
   {"width":26,"height":131,"view":{"fill":"#e1e0e0"},"data":{"values":[{"gene":"NIR"}]},"mark":{"type":"text","angle":270,"fontSize":15,"fontWeight":"bold","fontStyle":"italic"},"encoding":{"text":{"field":"gene"}}},
   {"width":138,"height":98,"data":{"name":"lfc"},"transform":[{"filter":"datum.g==='NIR' && datum.w===1"}],
    "encoding":{"x":{"field":"t","type":"ordinal","scale":{"domain":[0,3,12,24,48],"type":"point","padding":0.33},"axis":{"title":"Time (hpt)","labelAngle":0,"labelFontSize":11.5,"titleFontSize":12,"titleFontWeight":"normal","tickSize":4,"labelPadding":1,"titlePadding":1}},
     "y":{"field":"m","type":"quantitative","scale":{"domain":[-1,1.55],"range":[98,16],"nice":false,"zero":false},"axis":{"title":"LFC","titleFontSize":12,"labelFontSize":11,"tickSize":4,"labelPadding":2,"minExtent":27,"maxExtent":27,"titlePadding":1,"values":[-1,-0.5,0,0.5,1,1.5],"format":".1f"}}},
    "layer":[
     {"mark":{"type":"line","strokeWidth":1.6},"encoding":{"color":{"field":"c","type":"nominal","scale":{"domain":["CS/1103P","CS/RGM"],"range":["#d2232a","#5b9bd5"]},"legend":null},"strokeDash":{"field":"n","type":"nominal","scale":{"domain":["0N","HN"],"range":[[5,3],[1,0]]},"legend":null}}},
     {"mark":{"type":"errorbar","ticks":true,"size":4,"thickness":1,"color":"#111"},"encoding":{"yError":{"field":"e"}}}
    ]},
   {"width":146,"height":98,"data":{"name":"lfc"},"transform":[{"filter":"datum.g==='NIR' && datum.w===2"}],
    "encoding":{"x":{"field":"t","type":"ordinal","scale":{"domain":[0,3,12,24,48],"type":"point","padding":0.33},"axis":{"title":"Time (hpt)","labelAngle":0,"labelFontSize":11.5,"titleFontSize":12,"titleFontWeight":"normal","tickSize":4,"labelPadding":1,"titlePadding":1}},
     "y":{"field":"m","type":"quantitative","scale":{"domain":[-5,2.3],"range":[98,16],"nice":false,"zero":false},"axis":{"title":"LFC","titleFontSize":12,"labelFontSize":11,"tickSize":3,"labelPadding":1,"minExtent":16,"maxExtent":16,"titlePadding":1,"values":[-5,-4,-3,-2,-1,0,1,2],"format":"d"}}},
    "layer":[
     {"mark":{"type":"line","strokeWidth":1.6},"encoding":{"color":{"field":"c","type":"nominal","scale":{"domain":["CS/1103P","CS/RGM"],"range":["#d2232a","#5b9bd5"]},"legend":null},"strokeDash":{"field":"n","type":"nominal","scale":{"domain":["0N","HN"],"range":[[5,3],[1,0]]},"legend":null}}},
     {"mark":{"type":"errorbar","ticks":true,"size":4,"thickness":1,"color":"#111"},"encoding":{"yError":{"field":"e"}}},
     {"transform":[{"filter":"datum.s && datum.c==='CS/1103P'"}],"mark":{"type":"text","fontSize":12,"dy":-10,"baseline":"alphabetic","color":"#222"},"encoding":{"text":{"field":"s"}}},
     {"transform":[{"filter":"datum.s && datum.c==='CS/RGM'"}],"mark":{"type":"text","fontSize":12,"dy":3,"baseline":"alphabetic","color":"#222"},"encoding":{"text":{"field":"s"}}}
    ]},
   {"width":26,"height":131,"view":{"fill":"#e1e0e0"},"data":{"values":[{"gene":"PDR1"}]},"mark":{"type":"text","angle":270,"fontSize":15,"fontWeight":"bold","fontStyle":"italic"},"encoding":{"text":{"field":"gene"}}},
   {"width":138,"height":98,"data":{"name":"lfc"},"transform":[{"filter":"datum.g==='PDR1' && datum.w===1"}],
    "encoding":{"x":{"field":"t","type":"ordinal","scale":{"domain":[0,3,12,24,48],"type":"point","padding":0.33},"axis":{"title":"Time (hpt)","labelAngle":0,"labelFontSize":11.5,"titleFontSize":12,"titleFontWeight":"normal","tickSize":4,"labelPadding":1,"titlePadding":1}},
     "y":{"field":"m","type":"quantitative","scale":{"domain":[-2,0.55],"range":[98,16],"nice":false,"zero":false},"axis":{"title":"LFC","titleFontSize":12,"labelFontSize":11,"tickSize":4,"labelPadding":2,"minExtent":27,"maxExtent":27,"titlePadding":1,"values":[-2,-1.5,-1,-0.5,0,0.5],"format":".1f"}}},
    "layer":[
     {"mark":{"type":"line","strokeWidth":1.6},"encoding":{"color":{"field":"c","type":"nominal","scale":{"domain":["CS/1103P","CS/RGM"],"range":["#d2232a","#5b9bd5"]},"legend":null},"strokeDash":{"field":"n","type":"nominal","scale":{"domain":["0N","HN"],"range":[[5,3],[1,0]]},"legend":null}}},
     {"mark":{"type":"errorbar","ticks":true,"size":4,"thickness":1,"color":"#111"},"encoding":{"yError":{"field":"e"}}}
    ]},
   {"width":146,"height":98,"data":{"name":"lfc"},"transform":[{"filter":"datum.g==='PDR1' && datum.w===2"}],
    "encoding":{"x":{"field":"t","type":"ordinal","scale":{"domain":[0,3,12,24,48],"type":"point","padding":0.33},"axis":{"title":"Time (hpt)","labelAngle":0,"labelFontSize":11.5,"titleFontSize":12,"titleFontWeight":"normal","tickSize":4,"labelPadding":1,"titlePadding":1}},
     "y":{"field":"m","type":"quantitative","scale":{"domain":[-1,4],"range":[98,16],"nice":false,"zero":false},"axis":{"title":"LFC","titleFontSize":12,"labelFontSize":11,"tickSize":3,"labelPadding":1,"minExtent":16,"maxExtent":16,"titlePadding":1,"values":[-1,0,1,2,3,4],"format":"d"}}},
    "layer":[
     {"mark":{"type":"line","strokeWidth":1.6},"encoding":{"color":{"field":"c","type":"nominal","scale":{"domain":["CS/1103P","CS/RGM"],"range":["#d2232a","#5b9bd5"]},"legend":null},"strokeDash":{"field":"n","type":"nominal","scale":{"domain":["0N","HN"],"range":[[5,3],[1,0]]},"legend":null}}},
     {"mark":{"type":"errorbar","ticks":true,"size":4,"thickness":1,"color":"#111"},"encoding":{"yError":{"field":"e"}}},
     {"transform":[{"filter":"datum.s && datum.c==='CS/1103P'"}],"mark":{"type":"text","fontSize":12,"dy":3,"baseline":"alphabetic","color":"#222"},"encoding":{"text":{"field":"s"}}},
     {"transform":[{"filter":"datum.s && datum.c==='CS/RGM'"}],"mark":{"type":"text","fontSize":12,"dy":-2,"baseline":"alphabetic","color":"#222"},"encoding":{"text":{"field":"s"}}}
    ]}
  ]},
 {"resolve":{"scale":{"color":"independent","strokeDash":"independent"},"legend":{"color":"independent","strokeDash":"independent"}},
  "spacing":2,
  "hconcat":[
  {"width":2,"height":830,"view":{"fill":"#111"},"data":{"values":[{"v":""}]},"mark":{"type":"text","fontSize":0,"opacity":0},"encoding":{"text":{"field":"v"}}},
  {"resolve":{"scale":{"color":"independent","strokeDash":"independent"},"legend":{"color":"independent","strokeDash":"independent"}},
   "spacing":0,
   "vconcat":[
   {"width":1,"height":3,"data":{"values":[{"v":""}]},"mark":{"type":"text","fontSize":0,"opacity":0},"encoding":{"text":{"field":"v"}}},
   {"resolve":{"scale":{"color":"independent","strokeDash":"independent"},"legend":{"color":"independent","strokeDash":"independent"}},
   "spacing":26,
   "vconcat":[
   {"resolve":{"scale":{"color":"independent","strokeDash":"independent"},"legend":{"color":"independent","strokeDash":"independent"}},
    "columns":2,"bounds":"flush","spacing":{"row":47,"column":58},
    "concat":[
     {"width":131,"height":113,"title":{"text":"B","anchor":"start","frame":"group","dx":-61,"fontSize":16,"fontWeight":"bold","offset":-3},
      "data":{"name":"bio"},"transform":[{"filter":"datum.p==='B'"}],
      "encoding":{"x":{"field":"c","type":"nominal","scale":{"domain":["CS/1103P","CS/RGM"],"paddingInner":0.08,"paddingOuter":0.04},"axis":{"title":null,"labelAngle":0,"labelFontSize":9,"tickSize":3,"labelPadding":4}},"xOffset":{"field":"n","type":"nominal","scale":{"domain":["HN","0N"]}}},
      "layer":[
       {"mark":{"type":"bar","stroke":"#000","strokeWidth":1},"encoding":{"y":{"field":"m","type":"quantitative","scale":{"domain":[0,10],"nice":false},"axis":{"title":"Root FW (g)","titleFontSize":11,"labelFontSize":11,"tickSize":5,"labelPadding":2,"minExtent":38,"maxExtent":38,"titlePadding":8,"values":[0,2.5,5,7.5,10],"format":".1f"}},"color":{"field":"n","type":"nominal","scale":{"domain":["HN","0N"],"range":["#1d1b1b","#828080"]},"legend":{"orient":"none","legendX":93,"legendY":-7,"title":null,"symbolType":"square","symbolSize":120,"symbolStrokeColor":"#000","symbolStrokeWidth":1,"labelFontSize":10,"labelFontWeight":"bold","rowPadding":1,"padding":2,"fillColor":"#f2f2f2"}}}},
       {"transform":[{"filter":"datum.hi > datum.lo"}],"mark":{"type":"rule","color":"#000","strokeWidth":1},"encoding":{"y":{"field":"lo","type":"quantitative"},"y2":{"field":"hi"}}},
       {"transform":[{"filter":"datum.hi > datum.lo"}],"mark":{"type":"tick","color":"#000","size":6,"thickness":1},"encoding":{"y":{"field":"lo","type":"quantitative"}}},
       {"transform":[{"filter":"datum.hi > datum.lo"}],"mark":{"type":"tick","color":"#000","size":6,"thickness":1},"encoding":{"y":{"field":"hi","type":"quantitative"}}},
       {"mark":{"type":"text","fontSize":14,"baseline":"alphabetic","dy":-9},"encoding":{"y":{"field":"hi","type":"quantitative"},"text":{"field":"l"}}}
      ]},
     {"width":131,"height":113,"title":{"text":"E","anchor":"start","frame":"group","dx":-61,"fontSize":16,"fontWeight":"bold","offset":-3},
      "data":{"name":"bio"},"transform":[{"filter":"datum.p==='E'"}],
      "encoding":{"x":{"field":"c","type":"nominal","scale":{"domain":["CS/1103P","CS/RGM"],"paddingInner":0.08,"paddingOuter":0.04},"axis":{"title":null,"labelAngle":0,"labelFontSize":9,"tickSize":3,"labelPadding":4}},"xOffset":{"field":"n","type":"nominal","scale":{"domain":["HN","0N"]}}},
      "layer":[
       {"mark":{"type":"bar","stroke":"#000","strokeWidth":1},"encoding":{"y":{"field":"m","type":"quantitative","scale":{"domain":[0,10],"nice":false},"axis":{"title":"Main Stem FW (g)","titleFontSize":11,"labelFontSize":11,"tickSize":5,"labelPadding":2,"minExtent":38,"maxExtent":38,"titlePadding":8,"values":[0,2.5,5,7.5,10],"format":".1f"}},"color":{"field":"n","type":"nominal","scale":{"domain":["HN","0N"],"range":["#1d1b1b","#828080"]},"legend":null}}},
       {"transform":[{"filter":"datum.hi > datum.lo"}],"mark":{"type":"rule","color":"#000","strokeWidth":1},"encoding":{"y":{"field":"lo","type":"quantitative"},"y2":{"field":"hi"}}},
       {"transform":[{"filter":"datum.hi > datum.lo"}],"mark":{"type":"tick","color":"#000","size":6,"thickness":1},"encoding":{"y":{"field":"lo","type":"quantitative"}}},
       {"transform":[{"filter":"datum.hi > datum.lo"}],"mark":{"type":"tick","color":"#000","size":6,"thickness":1},"encoding":{"y":{"field":"hi","type":"quantitative"}}},
       {"mark":{"type":"text","fontSize":14,"baseline":"alphabetic","dy":-9},"encoding":{"y":{"field":"hi","type":"quantitative"},"text":{"field":"l"}}}
      ]},
     {"width":131,"height":113,"title":{"text":"C","anchor":"start","frame":"group","dx":-61,"fontSize":16,"fontWeight":"bold","offset":6},
      "data":{"name":"bio"},"transform":[{"filter":"datum.p==='C'"}],
      "encoding":{"x":{"field":"c","type":"nominal","scale":{"domain":["CS/1103P","CS/RGM"],"paddingInner":0.08,"paddingOuter":0.04},"axis":{"title":null,"labelAngle":0,"labelFontSize":9,"tickSize":3,"labelPadding":4}},"xOffset":{"field":"n","type":"nominal","scale":{"domain":["HN","0N"]}}},
      "layer":[
       {"mark":{"type":"bar","stroke":"#000","strokeWidth":1},"encoding":{"y":{"field":"m","type":"quantitative","scale":{"domain":[0,20],"nice":false},"axis":{"title":"Shoot FW (g)","titleFontSize":11,"labelFontSize":11,"tickSize":5,"labelPadding":2,"minExtent":38,"maxExtent":38,"titlePadding":8,"values":[0,5,10,15,20],"format":"d"}},"color":{"field":"n","type":"nominal","scale":{"domain":["HN","0N"],"range":["#1d1b1b","#828080"]},"legend":null}}},
       {"transform":[{"filter":"datum.hi > datum.lo"}],"mark":{"type":"rule","color":"#000","strokeWidth":1},"encoding":{"y":{"field":"lo","type":"quantitative"},"y2":{"field":"hi"}}},
       {"transform":[{"filter":"datum.hi > datum.lo"}],"mark":{"type":"tick","color":"#000","size":6,"thickness":1},"encoding":{"y":{"field":"lo","type":"quantitative"}}},
       {"transform":[{"filter":"datum.hi > datum.lo"}],"mark":{"type":"tick","color":"#000","size":6,"thickness":1},"encoding":{"y":{"field":"hi","type":"quantitative"}}},
       {"mark":{"type":"text","fontSize":14,"baseline":"alphabetic","dy":-9},"encoding":{"y":{"field":"hi","type":"quantitative"},"text":{"field":"l"}}}
      ]},
     {"width":131,"height":113,"title":{"text":"F","anchor":"start","frame":"group","dx":-61,"fontSize":16,"fontWeight":"bold","offset":-2},
      "data":{"name":"bio"},"transform":[{"filter":"datum.p==='F'"}],
      "encoding":{"x":{"field":"c","type":"nominal","scale":{"domain":["CS/1103P","CS/RGM"],"paddingInner":0.08,"paddingOuter":0.04},"axis":{"title":null,"labelAngle":0,"labelFontSize":9,"tickSize":3,"labelPadding":4}},"xOffset":{"field":"n","type":"nominal","scale":{"domain":["HN","0N"]}}},
      "layer":[
       {"mark":{"type":"bar","stroke":"#000","strokeWidth":1},"encoding":{"y":{"field":"m","type":"quantitative","scale":{"domain":[0,0.5],"nice":false},"axis":{"title":"LB I number/Node number","titleFontSize":11,"labelFontSize":11,"tickSize":5,"labelPadding":2,"minExtent":38,"maxExtent":38,"titlePadding":8,"values":[0,0.1,0.2,0.3,0.4,0.5],"format":".1f"}},"color":{"field":"n","type":"nominal","scale":{"domain":["HN","0N"],"range":["#1d1b1b","#828080"]},"legend":null}}},
       {"transform":[{"filter":"datum.hi > datum.lo"}],"mark":{"type":"rule","color":"#000","strokeWidth":1},"encoding":{"y":{"field":"lo","type":"quantitative"},"y2":{"field":"hi"}}},
       {"transform":[{"filter":"datum.hi > datum.lo"}],"mark":{"type":"tick","color":"#000","size":6,"thickness":1},"encoding":{"y":{"field":"lo","type":"quantitative"}}},
       {"transform":[{"filter":"datum.hi > datum.lo"}],"mark":{"type":"tick","color":"#000","size":6,"thickness":1},"encoding":{"y":{"field":"hi","type":"quantitative"}}},
       {"mark":{"type":"text","fontSize":14,"baseline":"alphabetic","dy":-9},"encoding":{"y":{"field":"hi","type":"quantitative"},"text":{"field":"l"}}}
      ]},
     {"width":131,"height":113,"title":{"text":"D","anchor":"start","frame":"group","dx":-61,"fontSize":16,"fontWeight":"bold","offset":0},
      "data":{"name":"bio"},"transform":[{"filter":"datum.p==='D'"}],
      "encoding":{"x":{"field":"c","type":"nominal","scale":{"domain":["CS/1103P","CS/RGM"],"paddingInner":0.08,"paddingOuter":0.04},"axis":{"title":null,"labelAngle":0,"labelFontSize":9,"tickSize":3,"labelPadding":4}},"xOffset":{"field":"n","type":"nominal","scale":{"domain":["HN","0N"]}}},
      "layer":[
       {"mark":{"type":"bar","stroke":"#000","strokeWidth":1},"encoding":{"y":{"field":"m","type":"quantitative","scale":{"domain":[0,30],"nice":false},"axis":{"title":"Plant FW (g)","titleFontSize":11,"labelFontSize":11,"tickSize":5,"labelPadding":2,"minExtent":38,"maxExtent":38,"titlePadding":8,"values":[0,5,10,15,20,25,30],"format":"d"}},"color":{"field":"n","type":"nominal","scale":{"domain":["HN","0N"],"range":["#1d1b1b","#828080"]},"legend":null}}},
       {"transform":[{"filter":"datum.hi > datum.lo"}],"mark":{"type":"rule","color":"#000","strokeWidth":1},"encoding":{"y":{"field":"lo","type":"quantitative"},"y2":{"field":"hi"}}},
       {"transform":[{"filter":"datum.hi > datum.lo"}],"mark":{"type":"tick","color":"#000","size":6,"thickness":1},"encoding":{"y":{"field":"lo","type":"quantitative"}}},
       {"transform":[{"filter":"datum.hi > datum.lo"}],"mark":{"type":"tick","color":"#000","size":6,"thickness":1},"encoding":{"y":{"field":"hi","type":"quantitative"}}},
       {"mark":{"type":"text","fontSize":14,"baseline":"alphabetic","dy":-9},"encoding":{"y":{"field":"hi","type":"quantitative"},"text":{"field":"l"}}}
      ]},
     {"width":131,"height":113,"title":{"text":"G","anchor":"start","frame":"group","dx":-61,"fontSize":16,"fontWeight":"bold","offset":-2},
      "data":{"name":"bio"},"transform":[{"filter":"datum.p==='G'"}],
      "encoding":{"x":{"field":"c","type":"nominal","scale":{"domain":["CS/1103P","CS/RGM"],"paddingInner":0.08,"paddingOuter":0.04},"axis":{"title":null,"labelAngle":0,"labelFontSize":9,"tickSize":3,"labelPadding":4}},"xOffset":{"field":"n","type":"nominal","scale":{"domain":["HN","0N"]}}},
      "layer":[
       {"mark":{"type":"bar","stroke":"#000","strokeWidth":1},"encoding":{"y":{"field":"m","type":"quantitative","scale":{"domain":[0,0.2],"nice":false},"axis":{"title":"LB I FW/Shoot FW","titleFontSize":11,"labelFontSize":11,"tickSize":5,"labelPadding":2,"minExtent":38,"maxExtent":38,"titlePadding":8,"values":[0,0.05,0.1,0.15,0.2],"format":".2f"}},"color":{"field":"n","type":"nominal","scale":{"domain":["HN","0N"],"range":["#1d1b1b","#828080"]},"legend":null}}},
       {"transform":[{"filter":"datum.hi > datum.lo"}],"mark":{"type":"rule","color":"#000","strokeWidth":1},"encoding":{"y":{"field":"lo","type":"quantitative"},"y2":{"field":"hi"}}},
       {"transform":[{"filter":"datum.hi > datum.lo"}],"mark":{"type":"tick","color":"#000","size":6,"thickness":1},"encoding":{"y":{"field":"lo","type":"quantitative"}}},
       {"transform":[{"filter":"datum.hi > datum.lo"}],"mark":{"type":"tick","color":"#000","size":6,"thickness":1},"encoding":{"y":{"field":"hi","type":"quantitative"}}},
       {"mark":{"type":"text","fontSize":14,"baseline":"alphabetic","dy":-9},"encoding":{"y":{"field":"hi","type":"quantitative"},"text":{"field":"l"}}}
      ]}
    ]},
   {"resolve":{"scale":{"color":"independent","strokeDash":"independent"},"legend":{"color":"independent","strokeDash":"independent"}},
    "bounds":"flush","spacing":59,
    "vconcat":[
     {"width":320,"height":118,"title":{"text":"H","anchor":"start","frame":"group","dx":-60,"fontSize":16,"fontWeight":"bold","offset":-12},
      "data":{"name":"germ"},"transform":[{"filter":"datum.p==='H'"}],
      "encoding":{"x":{"field":"d","type":"ordinal","scale":{"domain":[9,16,23,35],"paddingInner":0.19,"paddingOuter":0.22},"axis":{"title":"Time (Days)","titleFontWeight":"normal","labelAngle":0,"labelFontSize":12,"titleFontSize":12,"tickSize":4,"labelPadding":2,"titlePadding":2}},"xOffset":{"field":"s","type":"nominal","scale":{"domain":["CS/1103P – HN","CS/1103P – 0N","CS/RGM – HN","CS/RGM – 0N"],"paddingInner":0.12}}},
      "layer":[
       {"mark":{"type":"bar"},"encoding":{"y":{"field":"m","type":"quantitative","scale":{"domain":[0,100],"nice":false},"axis":{"title":["Germination (stimulant activity)","relative to GR24 (%)"],"titleFontSize":7.5,"labelFontSize":12,"tickSize":4,"labelPadding":2,"minExtent":26,"maxExtent":26,"titlePadding":8,"values":[0,20,40,60,80,100]}},"color":{"field":"s","type":"nominal","scale":{"domain":["CS/1103P – HN","CS/1103P – 0N","CS/RGM – HN","CS/RGM – 0N"],"range":["#e8343e","#ec9b90","#0c6585","#79b8c6"]},"legend":{"orient":"top-left","title":null,"symbolType":"square","symbolSize":110,"symbolStrokeWidth":0,"labelFontSize":11,"rowPadding":1.5,"padding":3,"offset":2,"fillColor":"#f3f3f3"}}}},
       {"transform":[{"filter":"datum.hi > datum.lo"}],"mark":{"type":"rule","color":"#222","strokeWidth":1},"encoding":{"y":{"field":"lo","type":"quantitative"},"y2":{"field":"hi"}}},
       {"transform":[{"filter":"datum.hi > datum.lo"}],"mark":{"type":"tick","color":"#222","size":6,"thickness":1},"encoding":{"y":{"field":"lo","type":"quantitative"}}},
       {"transform":[{"filter":"datum.hi > datum.lo"}],"mark":{"type":"tick","color":"#222","size":6,"thickness":1},"encoding":{"y":{"field":"hi","type":"quantitative"}}},
       {"mark":{"type":"text","fontSize":12,"baseline":"alphabetic","dy":-6},"encoding":{"y":{"field":"hi","type":"quantitative"},"text":{"field":"l"}}}
      ]},
     {"width":320,"height":118,"title":{"text":"I","anchor":"start","frame":"group","dx":-60,"fontSize":16,"fontWeight":"bold","offset":12},
      "data":{"name":"germ"},"transform":[{"filter":"datum.p==='I'"}],
      "encoding":{"x":{"field":"d","type":"ordinal","scale":{"domain":[9,16,23,35],"paddingInner":0.19,"paddingOuter":0.22},"axis":{"title":"Time (Days)","titleFontWeight":"normal","labelAngle":0,"labelFontSize":12,"titleFontSize":12,"tickSize":4,"labelPadding":2,"titlePadding":1}},"xOffset":{"field":"s","type":"nominal","scale":{"domain":["CS/1103P – HN","CS/1103P – 0N","CS/RGM – HN","CS/RGM – 0N"],"paddingInner":0.12}}},
      "layer":[
       {"mark":{"type":"bar"},"encoding":{"y":{"field":"m","type":"quantitative","scale":{"domain":[0,100],"nice":false},"axis":{"title":["Germination (stimulant activity)","relative to GR24 (%)"],"titleFontSize":7.5,"labelFontSize":12,"tickSize":4,"labelPadding":2,"minExtent":26,"maxExtent":26,"titlePadding":8,"values":[0,20,40,60,80,100]}},"color":{"field":"s","type":"nominal","scale":{"domain":["CS/1103P – HN","CS/1103P – 0N","CS/RGM – HN","CS/RGM – 0N"],"range":["#e8343e","#ec9b90","#0c6585","#79b8c6"]},"legend":null}}},
       {"transform":[{"filter":"datum.hi > datum.lo"}],"mark":{"type":"rule","color":"#222","strokeWidth":1},"encoding":{"y":{"field":"lo","type":"quantitative"},"y2":{"field":"hi"}}},
       {"transform":[{"filter":"datum.hi > datum.lo"}],"mark":{"type":"tick","color":"#222","size":6,"thickness":1},"encoding":{"y":{"field":"lo","type":"quantitative"}}},
       {"transform":[{"filter":"datum.hi > datum.lo"}],"mark":{"type":"tick","color":"#222","size":6,"thickness":1},"encoding":{"y":{"field":"hi","type":"quantitative"}}},
       {"mark":{"type":"text","fontSize":12,"baseline":"alphabetic","dy":-6},"encoding":{"y":{"field":"hi","type":"quantitative"},"text":{"field":"l"}}}
      ]}
    ]}
   ]}
  ]}
 ]}
]}
]
}
